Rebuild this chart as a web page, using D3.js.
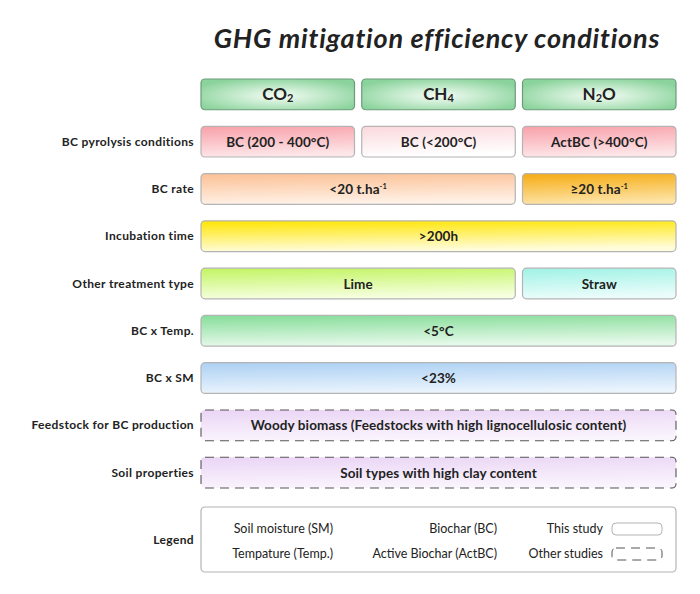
<!DOCTYPE html>
<html>
<head>
<meta charset="utf-8">
<script src="https://cdn.jsdelivr.net/npm/d3@7"></script>
<style>
  body { margin: 0; background: #fff; }
  svg text { font-family: Lato, "Open Sans", sans-serif; fill: #222; }
</style>
</head>
<body>
<svg id="chart"></svg>
<script>
// gases (columns)
const gases = ["CO2", "CH4", "N2O"];
const gasLabels = [["CO", "2", ""], ["CH", "4", ""], ["N", "2", "O"]];

// row labels (left side)
const rowLabels = [
  "BC pyrolysis conditions",
  "BC rate",
  "Incubation time",
  "Other treatment type",
  "BC x Temp.",
  "BC x SM",
  "Feedstock for BC production",
  "Soil properties"
];

// cells: row, first gas, last gas, text, superscript, colour key, study
const cellRow = [0, 0, 0, 1, 1, 2, 3, 3, 4, 5, 6, 7];
const cellFrom = ["CO2", "CH4", "N2O", "CO2", "N2O", "CO2", "CO2", "N2O", "CO2", "CO2", "CO2", "CO2"];
const cellTo = ["CO2", "CH4", "N2O", "CH4", "N2O", "N2O", "CH4", "N2O", "N2O", "N2O", "N2O", "N2O"];
const cellText = [
  "BC (200 - 400°C)", "BC (<200°C)", "ActBC (>400°C)",
  "<20 t.ha", "≥20 t.ha",
  ">200h",
  "Lime", "Straw",
  "<5°C",
  "<23%",
  "Woody biomass (Feedstocks with high lignocellulosic content)",
  "Soil types with high clay content"
];
const cellSup = ["", "", "", "-1", "-1", "", "", "", "", "", "", ""];
const cellFill = ["pink", "palepink", "pink", "peach", "orange", "yellow", "lime", "aqua", "green", "blue", "lavender", "lavender"];
const cellStudy = ["this", "this", "this", "this", "this", "this", "this", "this", "this", "this", "other", "other"];

// legend entries
const legendLeft = ["Soil moisture (SM)", "Tempature (Temp.)"];
const legendMid = ["Biochar (BC)", "Active Biochar (ActBC)"];
const legendRight = ["This study", "Other studies"];

// colour pairs: top / bottom of gradient
const palette = {
  pink: ["#f8a0a9", "#fde6e8"],
  palepink: ["#fbd8dc", "#ffffff"],
  peach: ["#fbc094", "#fff1e6"],
  orange: ["#f6ab10", "#fde3a6"],
  yellow: ["#ffe500", "#fffcdc"],
  lime: ["#c2f462", "#f6ffde"],
  aqua: ["#9ff2e5", "#ebfdfb"],
  green: ["#86dd99", "#e6f9ea"],
  blue: ["#acd0f3", "#eaf4fd"],
  lavender: ["#ead5f5", "#faf4fd"]
};

const width = 700;
const height = 594;
const margin = { left: 201, right: 24, top: 79 };

const svg = d3.select("#chart").attr("width", width).attr("height", height);
const defs = svg.append("defs");

Object.entries(palette).forEach(([key, [c0, c1]]) => {
  const g = defs.append("linearGradient")
    .attr("id", "grad-" + key)
    .attr("x1", "0").attr("y1", "0").attr("x2", "0.15").attr("y2", "1");
  g.append("stop").attr("offset", "0%").attr("stop-color", c0);
  g.append("stop").attr("offset", "100%").attr("stop-color", c1);
});

const hg = defs.append("radialGradient")
  .attr("id", "grad-header")
  .attr("cx", "50%").attr("cy", "55%").attr("r", "60%");
hg.append("stop").attr("offset", "0%").attr("stop-color", "#f4fbf5");
hg.append("stop").attr("offset", "45%").attr("stop-color", "#c6ebce");
hg.append("stop").attr("offset", "100%").attr("stop-color", "#8bd39c");

const x = d3.scaleBand()
  .domain(gases)
  .range([margin.left, width - margin.right])
  .paddingInner(0.045);

const y = d3.scaleBand()
  .domain(["header"].concat(rowLabels))
  .range([margin.top, 488])
  .paddingInner(0.35);

// title
svg.append("text")
  .attr("x", 437)
  .attr("y", 48)
  .attr("text-anchor", "middle")
  .style("font-size", "27px")
  .style("font-weight", "bold")
  .style("font-style", "italic")
  .style("letter-spacing", "0.8px")
  .text("GHG mitigation efficiency conditions");

// header
const header = svg.selectAll(".header")
  .data(gases)
  .join("g")
  .attr("class", "header");

header.append("rect")
  .attr("x", (d) => x(d))
  .attr("y", y("header"))
  .attr("width", x.bandwidth())
  .attr("height", y.bandwidth())
  .attr("rx", 4)
  .attr("fill", "url(#grad-header)")
  .attr("stroke", "#6f9a7a")
  .attr("stroke-width", 1.2);

header.append("text")
  .attr("x", (d) => x(d) + x.bandwidth() / 2)
  .attr("y", y("header") + y.bandwidth() / 2 + 6)
  .attr("text-anchor", "middle")
  .style("font-size", "17px")
  .style("font-weight", "bold")
  .each(function (d, i) {
    const t = d3.select(this);
    const parts = gasLabels[i];
    t.append("tspan").text(parts[0]);
    t.append("tspan").text(parts[1]).style("font-size", "11px").attr("dy", 2);
    if (parts[2]) t.append("tspan").text(parts[2]).attr("dy", -2);
  });

// row labels
svg.selectAll(".row-label")
  .data(rowLabels)
  .join("text")
  .attr("class", "row-label")
  .attr("x", 194)
  .attr("y", (d) => y(d) + y.bandwidth() / 2 + 4)
  .attr("text-anchor", "end")
  .style("font-size", "12px")
  .style("font-weight", "bold")
  .style("letter-spacing", "0.35px")
  .text((d) => d);

// cells
const cells = cellText.map((t, i) => ({
  row: rowLabels[cellRow[i]],
  from: cellFrom[i],
  to: cellTo[i],
  text: t,
  sup: cellSup[i],
  fill: cellFill[i],
  study: cellStudy[i]
}));

const cell = svg.selectAll(".cell")
  .data(cells)
  .join("g")
  .attr("class", "cell");

cell.append("rect")
  .attr("x", (d) => x(d.from))
  .attr("y", (d) => y(d.row))
  .attr("width", (d) => x(d.to) + x.bandwidth() - x(d.from))
  .attr("height", y.bandwidth())
  .attr("rx", 4)
  .attr("fill", (d) => `url(#grad-${d.fill})`)
  .attr("stroke", (d) => (d.study === "this" ? "#b4b4b4" : "#555"))
  .attr("stroke-width", (d) => (d.study === "this" ? 1.2 : 1.1))
  .attr("stroke-dasharray", (d) => (d.study === "this" ? null : "9,6"));

cell.append("text")
  .attr("x", (d) => (x(d.from) + x(d.to) + x.bandwidth()) / 2)
  .attr("y", (d) => y(d.row) + y.bandwidth() / 2 + 5)
  .attr("text-anchor", "middle")
  .style("font-size", "13.5px")
  .style("font-weight", "bold")
  .style("letter-spacing", "0.1px")
  .each(function (d) {
    const t = d3.select(this);
    t.append("tspan").text(d.text);
    if (d.sup) {
      t.append("tspan").text(d.sup).style("font-size", "7.5px").attr("dy", -5);
    }
  });

// legend
const legendTop = 507;
const legendHeight = 65;
const legendRows = d3.scaleBand()
  .domain([0, 1])
  .range([legendTop + 12, legendTop + legendHeight - 8])
  .paddingInner(0.2);

svg.append("text")
  .attr("x", 194)
  .attr("y", legendTop + legendHeight / 2 + 4)
  .attr("text-anchor", "end")
  .style("font-size", "12px")
  .style("font-weight", "bold")
  .style("letter-spacing", "0.35px")
  .text("Legend");

svg.append("rect")
  .attr("x", margin.left)
  .attr("y", legendTop)
  .attr("width", x.range()[1] - margin.left)
  .attr("height", legendHeight)
  .attr("rx", 4)
  .attr("fill", "#fff")
  .attr("stroke", "#b4b4b4")
  .attr("stroke-width", 1.2);

const legendCols = [
  { items: legendLeft, x: 333 },
  { items: legendMid, x: 497 },
  { items: legendRight, x: 603 }
];

legendCols.forEach((col) => {
  svg.selectAll(null)
    .data(col.items)
    .join("text")
    .attr("x", col.x)
    .attr("y", (d, i) => legendRows(i) + legendRows.bandwidth() / 2 + 4)
    .attr("text-anchor", "end")
    .style("font-size", "12.5px")
    .text((d) => d);
});

svg.selectAll(".legend-swatch")
  .data(legendRight)
  .join("rect")
  .attr("class", "legend-swatch")
  .attr("x", 612)
  .attr("y", (d, i) => legendRows(i) + legendRows.bandwidth() / 2 - 6)
  .attr("width", 50)
  .attr("height", 12)
  .attr("rx", 4)
  .attr("fill", "#fff")
  .attr("stroke", (d, i) => (i === 0 ? "#b4b4b4" : "#555"))
  .attr("stroke-width", 1)
  .attr("stroke-dasharray", (d, i) => (i === 0 ? null : "9,6"));
</script>
</body>
</html>
